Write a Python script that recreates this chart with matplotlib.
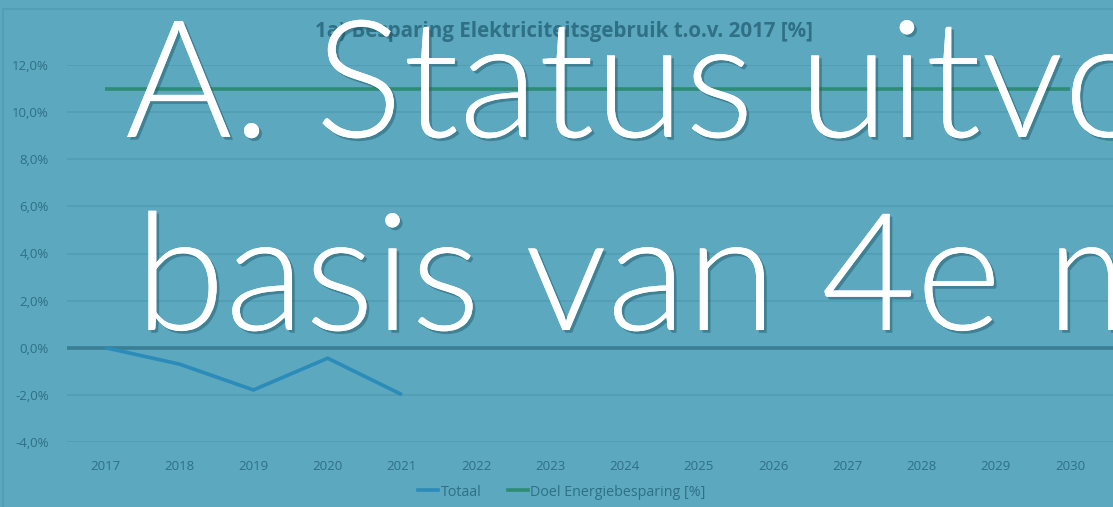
import matplotlib
matplotlib.use("Agg")
import matplotlib.pyplot as plt
import matplotlib.patheffects as pe
from matplotlib.lines import Line2D

years = ["2017", "2018", "2019", "2020", "2021", "2022", "2023", "2024",
         "2025", "2026", "2027", "2028", "2029", "2030"]
totaal = [0.0, -0.7, -1.8, -0.45, -2.0]
doel = [11.0] * 14
yticks = [-4, -2, 0, 2, 4, 6, 8, 10, 12]
ytick_labels = ["-4,0%", "-2,0%", "0,0%", "2,0%", "4,0%", "6,0%", "8,0%", "10,0%", "12,0%"]
title = "1a) Besparing Elektriciteitsgebruik t.o.v. 2017 [%]"
overlay_line1 = "A. Status uitvoering op"
overlay_line2 = "basis van 4e monitor"

BG = "#5BA8BF"
TXT = "#2F7085"
GRID = "#539DB3"
BLUE = "#2B8BB9"
GREEN = "#2F8C74"
ZERO = "#3A7E93"

W, H = 1113, 507
fig = plt.figure(figsize=(W / 100, H / 100), dpi=100, facecolor=BG)

ax = fig.add_axes([67 / W, (H - 441.7) / H, 1.0 - 67 / W + 0.02, (441.7 - 65.3) / H])
ax.set_facecolor(BG)
x = list(range(len(years)))
ax.set_xlim(-0.512, 13.58 + 0.02 * W / 74.2)
ax.set_ylim(-4, 12)
ax.set_yticks(yticks)
ax.set_yticklabels(ytick_labels)
ax.set_xticks(x)
ax.set_xticklabels(years)
for s in ax.spines.values():
    s.set_visible(False)
ax.tick_params(length=0, colors=TXT, labelsize=9.5)
ax.tick_params(axis="y", pad=13)
ax.tick_params(axis="x", pad=13)
for lab in ax.get_xticklabels() + ax.get_yticklabels():
    lab.set_fontfamily("Open Sans")
ax.grid(axis="y", color=GRID, linewidth=1.2)
ax.set_axisbelow(True)
ax.axhline(0, color=ZERO, linewidth=2.6, zorder=2)

ax.plot(x[:len(totaal)], totaal, color=BLUE, linewidth=2.6, solid_capstyle="butt", zorder=3)
ax.plot(x, doel, color=GREEN, linewidth=2.6, solid_capstyle="butt", zorder=3)

fig.text(564 / W, 1 - 32 / H, title, ha="center", va="center", color=TXT,
         fontsize=14.8, fontweight="bold", family="Open Sans")

# chart frame
fig.add_artist(Line2D([3 / W, 1.0], [1 - 9 / H, 1 - 9 / H], transform=fig.transFigure,
                      color=GRID, linewidth=1.2))
fig.add_artist(Line2D([3 / W, 3 / W], [0, 1 - 9 / H], transform=fig.transFigure,
                      color=GRID, linewidth=1.2))

handles = [Line2D([], [], color=BLUE, linewidth=2.6), Line2D([], [], color=GREEN, linewidth=2.6)]
leg = fig.legend(handles, ["Totaal", "Doel Energiebesparing [%]"], loc="center",
                 bbox_to_anchor=(562 / W, 1 - 492 / H), ncol=2, frameon=False,
                 handlelength=1.4, handletextpad=0.2, columnspacing=1.8,
                 prop={"family": "Open Sans", "size": 10.3})
for t in leg.get_texts():
    t.set_color(TXT)

shadow = [pe.withSimplePatchShadow(offset=(2, -2), shadow_rgbFace="#1E5566", alpha=0.45),
          pe.Normal()]
fig.text(125 / W, 1 - 137 / H, overlay_line1, ha="left", va="baseline", color="white",
         fontsize=118, family="Lato", fontweight=300, path_effects=shadow)
fig.text(135 / W, 1 - 330 / H, overlay_line2, ha="left", va="baseline", color="white",
         fontsize=118, family="Lato", fontweight=300, path_effects=shadow)

fig.savefig("out.png", dpi=100, facecolor=BG)
